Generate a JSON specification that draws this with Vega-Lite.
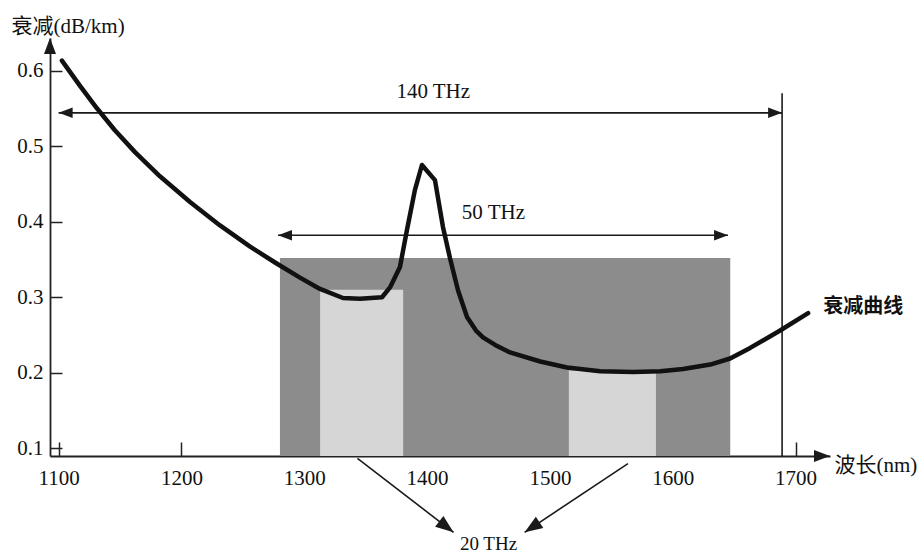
{
  "$schema": "https://vega.github.io/schema/vega-lite/v6.json",
  "width": 780,
  "height": 418,
  "autosize": "none",
  "padding": {"left": 50, "top": 38, "right": 87, "bottom": 101},
  "background": "white",
  "config": {"view": {"stroke": null}},
  "datasets": {
    "curve": [
      {"wl": 1102.7, "att": 0.613},
      {"wl": 1117.3, "att": 0.580},
      {"wl": 1131.2, "att": 0.550},
      {"wl": 1145.8, "att": 0.521},
      {"wl": 1162.2, "att": 0.492},
      {"wl": 1182.5, "att": 0.460},
      {"wl": 1207.0, "att": 0.426},
      {"wl": 1231.4, "att": 0.395},
      {"wl": 1255.9, "att": 0.367},
      {"wl": 1276.2, "att": 0.346},
      {"wl": 1296.5, "att": 0.326},
      {"wl": 1312.8, "att": 0.311},
      {"wl": 1331.5, "att": 0.299},
      {"wl": 1345.4, "att": 0.298},
      {"wl": 1363.3, "att": 0.300},
      {"wl": 1369.8, "att": 0.313},
      {"wl": 1377.9, "att": 0.340},
      {"wl": 1383.6, "att": 0.389},
      {"wl": 1390.1, "att": 0.442},
      {"wl": 1395.8, "att": 0.475},
      {"wl": 1406.4, "att": 0.455},
      {"wl": 1412.9, "att": 0.393},
      {"wl": 1418.6, "att": 0.352},
      {"wl": 1425.2, "att": 0.309},
      {"wl": 1432.5, "att": 0.274},
      {"wl": 1439.8, "att": 0.256},
      {"wl": 1445.5, "att": 0.247},
      {"wl": 1455.4, "att": 0.237},
      {"wl": 1467.5, "att": 0.227},
      {"wl": 1492.1, "att": 0.215},
      {"wl": 1513.9, "att": 0.207},
      {"wl": 1540.9, "att": 0.202},
      {"wl": 1567.7, "att": 0.201},
      {"wl": 1589.8, "att": 0.202},
      {"wl": 1608.4, "att": 0.205},
      {"wl": 1630.5, "att": 0.211},
      {"wl": 1646.7, "att": 0.219},
      {"wl": 1663.0, "att": 0.233},
      {"wl": 1687.4, "att": 0.256},
      {"wl": 1710.2, "att": 0.279}
    ],
    "bands": [
      {"wl": 1280.2, "wl2": 1646.8, "att": 0.09, "att2": 0.352, "shade": "dark"},
      {"wl": 1312.9, "wl2": 1380.5, "att": 0.09, "att2": 0.31, "shade": "light"},
      {"wl": 1515.4, "wl2": 1586.3, "att": 0.09, "att2": 0.203, "shade": "light"}
    ],
    "lines": [
      {"wl": 1689, "att": 0.09, "wl2": 1689, "att2": 0.57, "name": "1700 nm"},
      {"wl": 1100, "att": 0.544, "wl2": 1689, "att2": 0.544, "name": "140 THz"},
      {"wl": 1278.6, "att": 0.382, "wl2": 1645, "att2": 0.382, "name": "50 THz"},
      {"wl": 1343.3, "att": 0.087, "wl2": 1421.5, "att2": -0.011, "name": "20 THz a"},
      {"wl": 1563.5, "att": 0.080, "wl2": 1479.4, "att2": -0.011, "name": "20 THz b"}
    ],
    "heads": [
      {"wl": 1100, "att": 0.544, "dir": "left"},
      {"wl": 1689, "att": 0.544, "dir": "right"},
      {"wl": 1278.6, "att": 0.382, "dir": "left"},
      {"wl": 1645, "att": 0.382, "dir": "right"},
      {"wl": 1421.5, "att": -0.011, "dir": "downright"},
      {"wl": 1479.4, "att": -0.011, "dir": "downleft"},
      {"wl": 1728, "att": 0.09, "dir": "axisx"},
      {"wl": 1093, "att": 0.643, "dir": "axisy"}
    ],
    "labels": [
      {"wl": 1405, "att": 0.571, "label": "140 THz"},
      {"wl": 1454, "att": 0.411, "label": "50 THz"}
    ],
    "bottomlabel": [
      {"wl": 1450, "att": -0.027, "label": "20 THz"}
    ],
    "curvelabel": [
      {"wl": 1755, "att": 0.287, "label": "衰减曲线"}
    ]
  },
  "encoding": {
    "x": {
      "field": "wl",
      "type": "quantitative",
      "scale": {"domain": [1093, 1728], "nice": false, "zero": false},
      "axis": {
        "values": [1100, 1200, 1300, 1400, 1500, 1600, 1700],
        "format": "d",
        "grid": false,
        "labelAngle": 0,
        "labelFont": "Liberation Serif",
        "labelFontSize": 21,
        "labelColor": "#111111",
        "labelPadding": 25,
        "labelFlush": false,
        "tickSize": -14,
        "tickWidth": 1.5,
        "tickColor": "#222222",
        "domainColor": "#222222",
        "domainWidth": 1.8,
        "title": "波长(nm)",
        "titleFont": "Liberation Serif, Noto Sans CJK SC",
        "titleFontSize": 21,
        "titleFontWeight": "normal",
        "titleColor": "#111111",
        "titleX": 784,
        "titleY": 15,
        "titleAlign": "left",
        "titleBaseline": "alphabetic"
      }
    },
    "y": {
      "field": "att",
      "type": "quantitative",
      "scale": {"domain": [0.09, 0.643], "nice": false, "zero": false},
      "axis": {
        "values": [0.1, 0.2, 0.3, 0.4, 0.5, 0.6],
        "format": ".1f",
        "grid": false,
        "labelFont": "Liberation Serif",
        "labelFontSize": 21,
        "labelColor": "#111111",
        "labelPadding": 19,
        "labelFlush": false,
        "tickSize": -12,
        "tickWidth": 1.5,
        "tickColor": "#222222",
        "domainColor": "#222222",
        "domainWidth": 1.8,
        "title": "衰减(dB/km)",
        "titleFont": "Liberation Serif, Noto Sans CJK SC",
        "titleFontSize": 21,
        "titleFontWeight": "normal",
        "titleColor": "#111111",
        "titleAngle": 0,
        "titleX": -39,
        "titleY": -6,
        "titleAlign": "left",
        "titleBaseline": "alphabetic"
      }
    }
  },
  "layer": [
    {
      "data": {"name": "bands"},
      "mark": {"type": "rect"},
      "encoding": {
        "x2": {"field": "wl2"},
        "y2": {"field": "att2"},
        "color": {
          "field": "shade",
          "type": "nominal",
          "scale": {"domain": ["dark", "light"], "range": ["#8c8c8c", "#d6d6d6"]},
          "legend": null
        }
      }
    },
    {
      "data": {"name": "lines"},
      "mark": {"type": "rule", "color": "#1a1a1a", "strokeWidth": 1.6},
      "encoding": {
        "x2": {"field": "wl2"},
        "y2": {"field": "att2"}
      }
    },
    {
      "data": {"name": "curve"},
      "mark": {"type": "line", "interpolate": "linear", "color": "#111111", "strokeWidth": 4.5, "strokeJoin": "round", "strokeCap": "round"},
      "encoding": {}
    },
    {
      "data": {"name": "heads"},
      "transform": [{"filter": "datum.dir == 'right'"}],
      "mark": {"type": "point", "shape": "M0,0 L-2,-0.75 L-2,0.75 Z", "filled": true, "color": "#1a1a1a", "opacity": 1, "size": 196, "angle": 0},
      "encoding": {}
    },
    {
      "data": {"name": "heads"},
      "transform": [{"filter": "datum.dir == 'left'"}],
      "mark": {"type": "point", "shape": "M0,0 L-2,-0.75 L-2,0.75 Z", "filled": true, "color": "#1a1a1a", "opacity": 1, "size": 196, "angle": 180},
      "encoding": {}
    },
    {
      "data": {"name": "heads"},
      "transform": [{"filter": "datum.dir == 'downright'"}],
      "mark": {"type": "point", "shape": "M0,0 L-2,-0.75 L-2,0.75 Z", "filled": true, "color": "#1a1a1a", "opacity": 1, "size": 324, "angle": 37.6},
      "encoding": {}
    },
    {
      "data": {"name": "heads"},
      "transform": [{"filter": "datum.dir == 'downleft'"}],
      "mark": {"type": "point", "shape": "M0,0 L-2,-0.75 L-2,0.75 Z", "filled": true, "color": "#1a1a1a", "opacity": 1, "size": 324, "angle": 146.2},
      "encoding": {}
    },
    {
      "data": {"name": "heads"},
      "transform": [{"filter": "datum.dir == 'axisx'"}],
      "mark": {"type": "point", "shape": "M0,0 L-2,-0.75 L-2,0.75 Z", "filled": true, "color": "#1a1a1a", "opacity": 1, "size": 256, "angle": 0},
      "encoding": {}
    },
    {
      "data": {"name": "heads"},
      "transform": [{"filter": "datum.dir == 'axisy'"}],
      "mark": {"type": "point", "shape": "M0,0 L-2,-0.75 L-2,0.75 Z", "filled": true, "color": "#1a1a1a", "opacity": 1, "size": 256, "angle": 270},
      "encoding": {}
    },
    {
      "data": {"name": "labels"},
      "mark": {"type": "text", "font": "Liberation Serif", "fontSize": 21, "color": "#111111", "align": "center", "baseline": "middle"},
      "encoding": {"text": {"field": "label"}}
    },
    {
      "data": {"name": "bottomlabel"},
      "mark": {"type": "text", "font": "Liberation Serif", "fontSize": 19, "color": "#111111", "align": "center", "baseline": "middle"},
      "encoding": {"text": {"field": "label"}}
    },
    {
      "data": {"name": "curvelabel"},
      "mark": {"type": "text", "font": "Noto Sans CJK SC", "fontSize": 20, "fontWeight": "bold", "color": "#111111", "align": "center", "baseline": "middle"},
      "encoding": {"text": {"field": "label"}}
    }
  ]
}
